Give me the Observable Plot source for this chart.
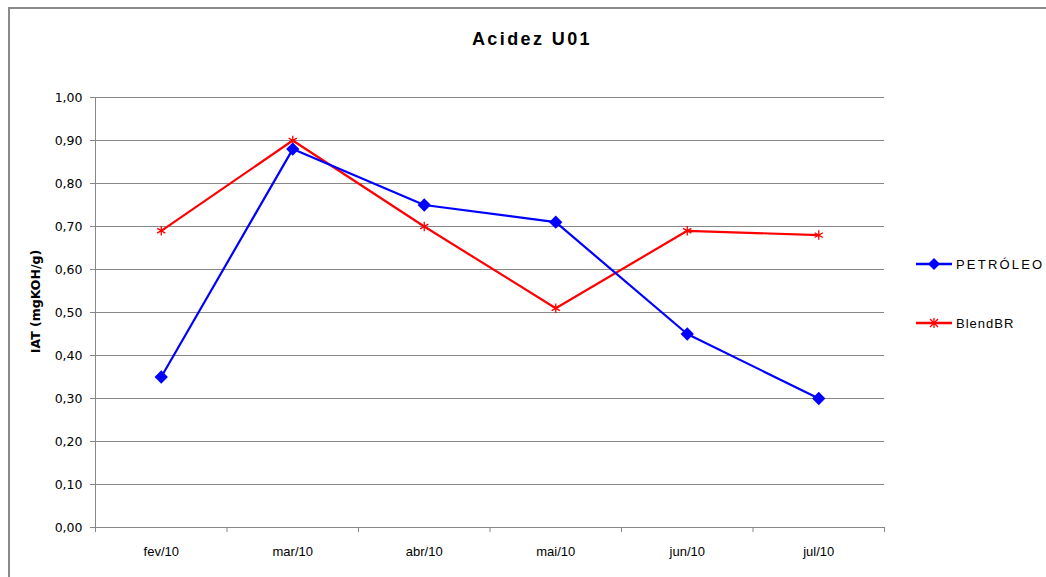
<!DOCTYPE html>
<html><head><meta charset="utf-8">
<script src="https://cdn.jsdelivr.net/npm/d3@7"></script>
<script src="https://cdn.jsdelivr.net/npm/@observablehq/plot@0.6"></script>
<style>
body{margin:0;background:#fff;}
#wrap{position:relative;width:1046px;height:577px;overflow:hidden;font-family:"Liberation Sans",Arial,sans-serif;background:#fff;}
#frame{position:absolute;left:8px;top:7px;width:1100px;height:700px;border-top:2px solid #8a8a8a;border-left:2px solid #8a8a8a;pointer-events:none;}
#chart{position:absolute;left:0;top:0;}
#title{position:absolute;left:382px;width:300px;top:29px;text-align:center;font-size:18px;font-weight:bold;letter-spacing:2.4px;color:#000;}
.leg{position:absolute;left:915px;display:flex;align-items:center;font-size:13px;color:#000;}
.leg svg{margin-right:3px;}
</style>
</head><body>
<div id="wrap">
  <div id="chart"></div>
  <div id="title">Acidez U01</div>
  <div class="leg" style="top:256px;letter-spacing:2.2px;"><svg width="38" height="16"><line x1="1" y1="8" x2="37" y2="8" stroke="#0000ff" stroke-width="2.5"/><path d="M19 2 L25 8 L19 14 L13 8 Z" fill="#0000ff"/></svg>PETRÓLEO</div>
  <div class="leg" style="top:315px;letter-spacing:1px;"><svg width="38" height="16"><line x1="1" y1="8" x2="37" y2="8" stroke="#ff0000" stroke-width="2.5"/><path d="M15 4 L23 12 M23 4 L15 12 M19 3 L19 13" stroke="#ff0000" stroke-width="1.3"/></svg>BlendBR</div>
  <div id="frame"></div>
</div>
<script>
const months = ["fev/10", "mar/10", "abr/10", "mai/10", "jun/10", "jul/10"];
const petroleo = [0.35, 0.88, 0.75, 0.71, 0.45, 0.30];
const blendBR = [0.69, 0.90, 0.70, 0.51, 0.69, 0.68];
const yTicks = [0, 0.1, 0.2, 0.3, 0.4, 0.5, 0.6, 0.7, 0.8, 0.9, 1.0];
const yLabel = "IAT (mgKOH/g)";

const rows = months.map((m, i) => ({i: i + 0.5, month: m, series: "PETRÓLEO", v: petroleo[i]}));
const rowsB = months.map((m, i) => ({i: i + 0.5, month: m, series: "BlendBR", v: blendBR[i]}));
const boundaries = d3.range(0, months.length + 1);
const centers = months.map((m, i) => i + 0.5);
const fmt = d => d.toFixed(2).replace(".", ",");
const grey = "#888888";

const chart = Plot.plot({
  width: 1046,
  height: 577,
  marginLeft: 95,
  marginRight: 162,
  marginTop: 97,
  marginBottom: 50,
  style: {fontFamily: '"Liberation Sans", Arial, sans-serif', fontSize: "12px", color: "#000", background: "transparent"},
  x: {domain: [0, months.length]},
  y: {domain: [0, 1]},
  marks: [
    Plot.gridY(yTicks.filter(d => d > 0), {stroke: grey, strokeOpacity: 1, strokeWidth: 1}),
    Plot.axisY({ticks: yTicks, tickFormat: fmt, tickSize: 5, tickPadding: 8, stroke: grey, label: null, fontSize: 12.5, fontFamily: '"DejaVu Sans", Verdana, sans-serif'}),
    Plot.axisX({ticks: boundaries, tickFormat: () => "", tickSize: 5, stroke: grey, label: null}),
    Plot.axisX({ticks: centers, tickFormat: d => months[Math.round(d - 0.5)], tickSize: 0, tickPadding: 19, label: null, fontSize: 13, fontFamily: '"Liberation Sans Narrow", "Arial Narrow", "Liberation Sans", sans-serif'}),
    Plot.ruleX([0], {stroke: grey, strokeWidth: 1}),
    Plot.ruleY([0], {stroke: grey, strokeWidth: 1}),
    Plot.line(rowsB, {x: "i", y: "v", stroke: "#ff0000", strokeWidth: 2.2}),
    Plot.line(rows, {x: "i", y: "v", stroke: "#0000ff", strokeWidth: 2.2}),
    Plot.dot(rowsB, {x: "i", y: "v", symbol: "asterisk", stroke: "#ff0000", r: 4.5, strokeWidth: 1.3}),
    Plot.dot(rows, {x: "i", y: "v", symbol: "square", rotate: 45, fill: "#0000ff", r: 5.3}),
    Plot.text([yLabel], {frameAnchor: "left", textAnchor: "middle", dx: -60, dy: -11, rotate: -90, fontWeight: "bold", fontSize: 12.5, fontFamily: '"DejaVu Sans", Verdana, sans-serif', fill: "#000"})
  ]
});
document.getElementById("chart").appendChild(chart);
</script>
</body></html>
